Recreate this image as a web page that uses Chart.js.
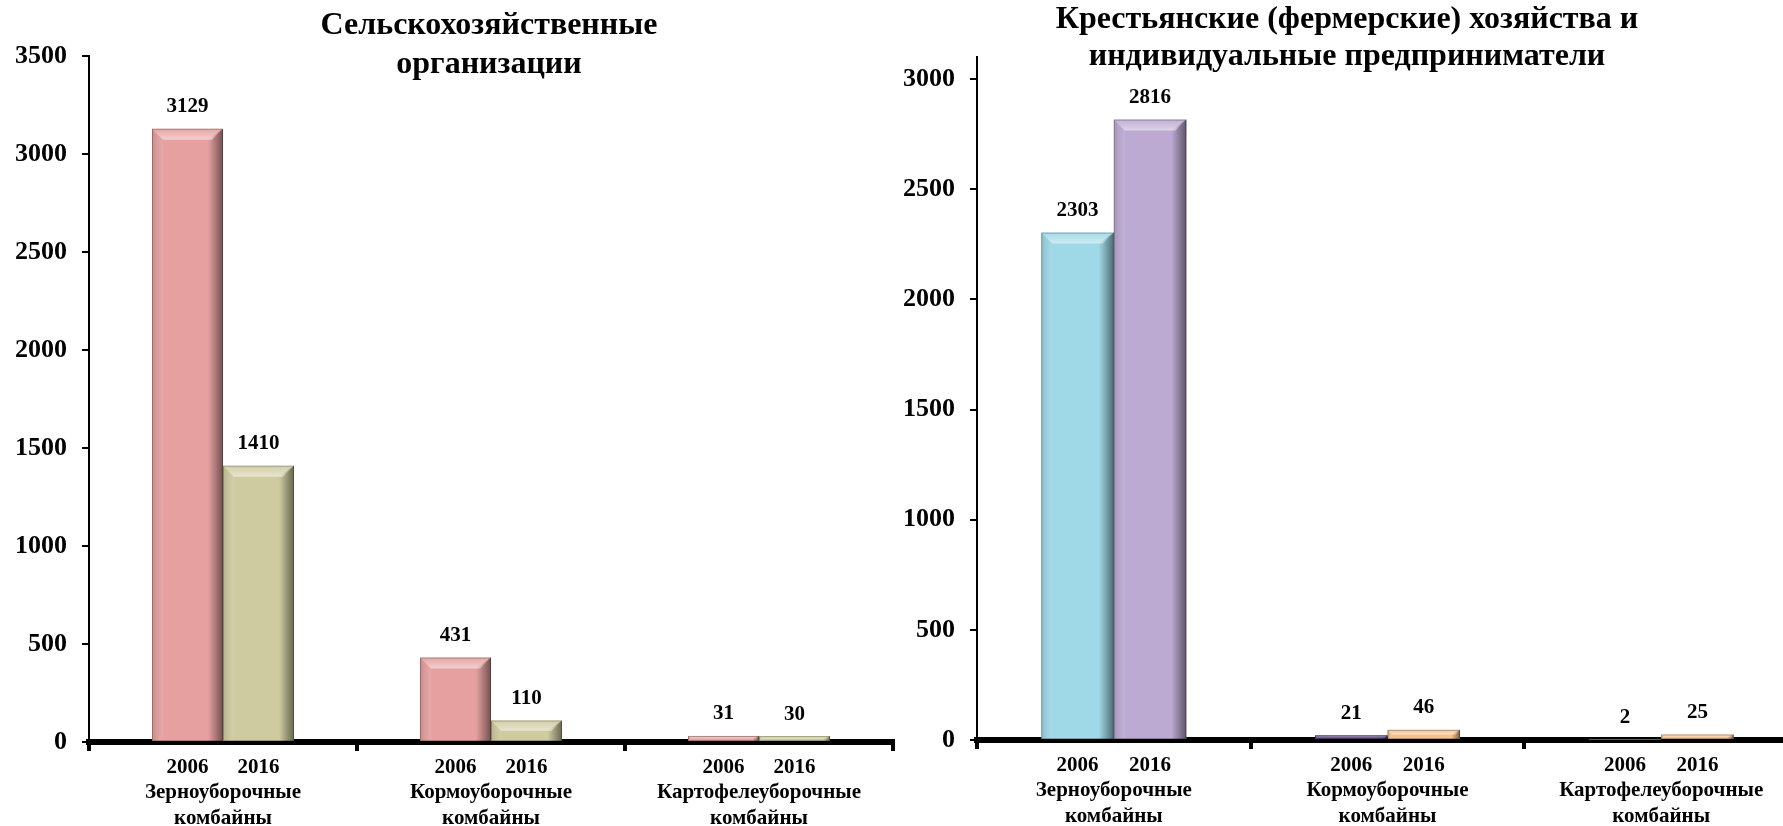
<!DOCTYPE html>
<html>
<head>
<meta charset="utf-8">
<script src="https://cdn.jsdelivr.net/npm/chart.js@4.4.1/dist/chart.umd.min.js"></script>
<style>
  html, body { margin: 0; padding: 0; background: #fff; }
  body { width: 1783px; height: 826px; overflow: hidden; position: relative; }
  canvas { position: absolute; top: 0; }
  #orgChart { left: 0; }
  #farmChart { left: 880px; }
</style>
</head>
<body>
<canvas id="orgChart" width="900" height="826"></canvas>
<canvas id="farmChart" width="925" height="826"></canvas>
<script>
// categories and years
const categories = [
  ['Зерноуборочные', 'комбайны'],
  ['Кормоуборочные', 'комбайны'],
  ['Картофелеуборочные', 'комбайны']
];
const years = ['2006', '2016'];

// Сельскохозяйственные организации
const orgTitle = ['Сельскохозяйственные', 'организации'];
const org2006 = [3129, 431, 31];
const org2016 = [1410, 110, 30];
const orgTicks = [0, 500, 1000, 1500, 2000, 2500, 3000, 3500];

// Крестьянские (фермерские) хозяйства и ИП
const farmTitle = ['Крестьянские (фермерские) хозяйства и', 'индивидуальные предприниматели'];
const farm2006 = [2303, 21, 2];
const farm2016 = [2816, 46, 25];
const farmTicks = [0, 500, 1000, 1500, 2000, 2500, 3000];

// colours
const org2006Color = '#e5a09f';
const org2016Color = '#cfcba0';
const farm2006Colors = ['#9fd8e7', '#5d4a86', '#9fd8e7'];
const farm2016Colors = ['#bcaad3', '#f6c08c', '#f6c08c'];

const FONT = '"Liberation Serif", "Times New Roman", serif';

// bevel look of the bars
const bevelPlugin = {
  id: 'bevel',
  afterDatasetsDraw(chart) {
    const ctx = chart.ctx;
    chart.data.datasets.forEach((ds, i) => {
      chart.getDatasetMeta(i).data.forEach(bar => {
        const p = bar.getProps(['x', 'y', 'base', 'width'], true);
        const l = p.x - p.width / 2, r = p.x + p.width / 2;
        const t = Math.min(p.y, p.base), b = Math.max(p.y, p.base);
        const h = b - t;
        if (h < 0.5) return;
        const d = Math.min(11, h / 2, p.width / 4);
        ctx.save();
        // right side shade
        let g = ctx.createLinearGradient(r - d - 4, 0, r, 0);
        g.addColorStop(0, 'rgba(0,0,0,0)');
        g.addColorStop(1, 'rgba(0,0,0,0.5)');
        ctx.fillStyle = g;
        ctx.beginPath();
        ctx.moveTo(r - d - 4, t + d); ctx.lineTo(r, t); ctx.lineTo(r, b); ctx.lineTo(r - d - 4, b);
        ctx.closePath(); ctx.fill();
        // left side
        g = ctx.createLinearGradient(l, 0, l + d, 0);
        g.addColorStop(0, 'rgba(0,0,0,0.12)');
        g.addColorStop(1, 'rgba(255,255,255,0.08)');
        ctx.fillStyle = g;
        ctx.beginPath();
        ctx.moveTo(l, t); ctx.lineTo(l + d, t + d); ctx.lineTo(l + d, b); ctx.lineTo(l, b);
        ctx.closePath(); ctx.fill();
        // top bevel
        g = ctx.createLinearGradient(0, t, 0, t + d);
        g.addColorStop(0, 'rgba(255,255,255,0.05)');
        g.addColorStop(1, 'rgba(255,255,255,0.5)');
        ctx.fillStyle = g;
        ctx.beginPath();
        ctx.moveTo(l, t); ctx.lineTo(r, t); ctx.lineTo(r - d, t + d); ctx.lineTo(l + d, t + d);
        ctx.closePath(); ctx.fill();
        ctx.strokeStyle = 'rgba(0,0,0,0.25)';
        ctx.lineWidth = 1;
        ctx.strokeRect(l + 0.5, t + 0.5, p.width - 1, h - 1);
        ctx.restore();
      });
    });
  }
};

// values above bars and year under each bar
const labelsPlugin = {
  id: 'barLabels',
  afterDatasetsDraw(chart) {
    const ctx = chart.ctx;
    const xScale = chart.scales.x;
    ctx.save();
    ctx.fillStyle = '#000';
    ctx.textAlign = 'center';
    ctx.textBaseline = 'middle';
    ctx.font = 'bold 21px ' + FONT;
    chart.data.datasets.forEach((ds, i) => {
      chart.getDatasetMeta(i).data.forEach((bar, j) => {
        ctx.fillText(String(ds.data[j]), bar.x, bar.y - 22);
        ctx.fillText(ds.label, bar.x, xScale.top + 26);
      });
    });
    ctx.restore();
  }
};

// title drawn over the plot
const overlayTitle = {
  id: 'overlayTitle',
  afterDraw(chart, args, opts) {
    const ctx = chart.ctx;
    ctx.save();
    ctx.fillStyle = '#000';
    ctx.font = 'bold 32px ' + FONT;
    ctx.textAlign = 'center';
    ctx.textBaseline = 'middle';
    opts.lines.forEach((line, i) => ctx.fillText(line, opts.x, opts.ys[i]));
    ctx.restore();
  }
};

function makeChart(id, d2006, d2016, c2006, c2016, yTicks, yMax, yWidth, xHeight, padTop, title) {
  return new Chart(document.getElementById(id), {
    type: 'bar',
    data: {
      labels: categories,
      datasets: [
        { label: years[0], data: d2006, backgroundColor: c2006, borderWidth: 0 },
        { label: years[1], data: d2016, backgroundColor: c2016, borderWidth: 0 }
      ]
    },
    options: {
      responsive: false,
      animation: false,
      devicePixelRatio: 1,
      layout: { padding: { left: 0, right: 7, top: padTop, bottom: 0 } },
      datasets: { bar: { categoryPercentage: 0.53, barPercentage: 1 } },
      plugins: {
        legend: { display: false },
        tooltip: { enabled: false },
        overlayTitle: title
      },
      scales: {
        x: {
          afterFit: s => { s.height = xHeight; },
          border: { display: true, color: '#000', width: 6 },
          grid: { drawOnChartArea: false, drawTicks: true, tickLength: 9, color: '#000', lineWidth: 4, offset: true },
          ticks: {
            color: '#000',
            padding: 2,
            maxRotation: 0,
            autoSkip: false,
            font: { family: FONT, size: 21, weight: 'bold', lineHeight: 1.25 },
            callback: (v, i) => [''].concat(categories[i])
          }
        },
        y: {
          min: 0,
          max: yMax,
          afterFit: s => { s.width = yWidth; },
          afterBuildTicks: s => { s.ticks = yTicks.map(v => ({ value: v })); },
          border: { display: true, color: '#000', width: 2 },
          grid: { drawOnChartArea: false, drawTicks: true, tickLength: 7, color: '#000', lineWidth: 2 },
          ticks: {
            autoSkip: false,
            color: '#000',
            padding: 15,
            font: { family: FONT, size: 26, weight: 'bold' },
            callback: v => String(v)
          }
        }
      }
    },
    plugins: [bevelPlugin, labelsPlugin, overlayTitle]
  });
}

makeChart('orgChart', org2006, org2016, org2006Color, org2016Color, orgTicks, 3500, 89, 84, 56,
  { lines: orgTitle, x: 489, ys: [26, 65] });
makeChart('farmChart', farm2006, farm2016, farm2006Colors, farm2016Colors, farmTicks, 3100, 97, 86, 57,
  { lines: farmTitle, x: 467, ys: [20, 57] });
</script>
</body>
</html>
